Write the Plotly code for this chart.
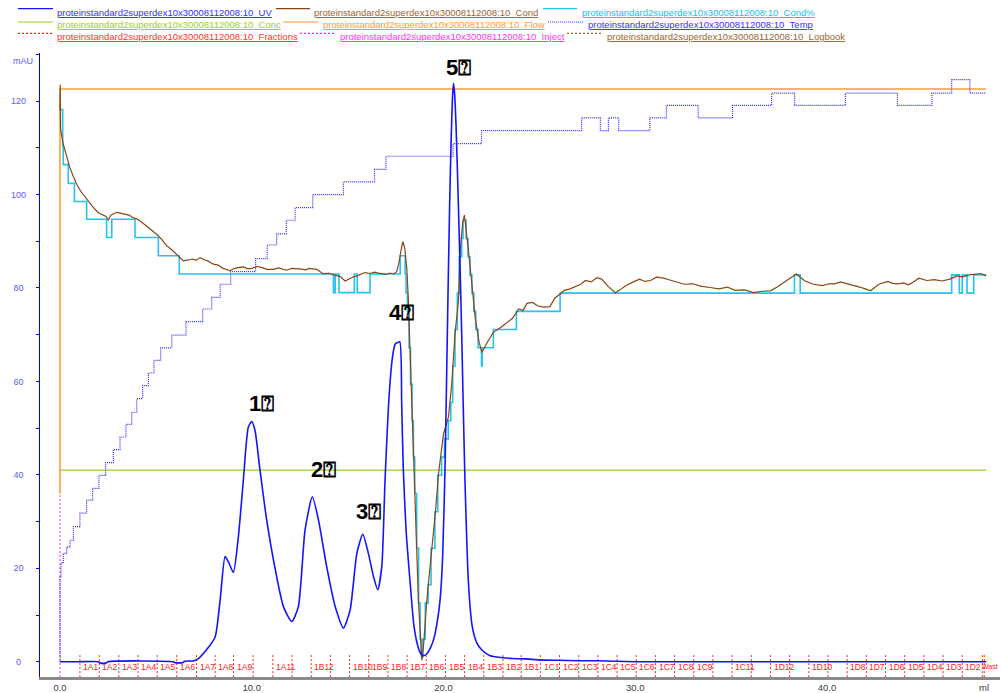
import plotly.graph_objects as go

RUN = "proteinstandard2superdex10x30008112008:10_"

# ---------------- data ----------------
uv_ml = [0.0, 1.0, 2.0, 2.1, 2.4, 2.5, 5.9, 6.0, 6.4, 6.5, 7.0, 7.2, 7.65, 8.09, 8.35, 8.61,
         8.8, 9.04, 9.3, 9.56, 9.82, 10.0, 10.17, 10.43, 10.78, 11.2, 11.65, 12.09, 12.43,
         12.78, 13.16, 13.48, 13.91, 14.35, 14.78, 15.13, 15.48, 15.79, 16.08, 16.35, 16.57,
         16.78, 16.95, 17.18, 17.35, 17.48, 17.6, 17.72, 17.82, 17.9, 18.05, 18.26, 18.45,
         18.62, 18.8, 18.94, 19.1, 19.3, 19.5, 19.67, 19.82, 19.95, 20.08, 20.17, 20.24,
         20.32, 20.4, 20.47, 20.52, 20.58, 20.66, 20.76, 20.86, 20.95, 21.1, 21.3, 21.5,
         21.74, 22.0, 22.43, 23.0, 23.6, 24.3, 25.0, 26.0, 27.0, 28.0, 29.0, 30.0, 31.0, 48.3]
uv_mau = [0.0, 0.0, 0.0, -0.3, -0.3, 0.0, 0.0, -0.2, -0.2, 0.1, 0.2, 0.6, 2.6, 5.3, 13.2, 22.5,
          21.2, 19.1, 26.7, 38.8, 50.2, 51.4, 49.5, 41.0, 30.3, 20.3, 11.8, 8.6, 11.8,
          28.2, 35.3, 30.3, 20.3, 11.8, 7.2, 11.1, 23.2, 27.3, 23.2, 18.2, 15.4,
          20.3, 38.8, 58.0, 65.5, 68.0, 68.3, 68.5, 55.0, 41.6, 28.0, 16.9, 8.0,
          4.0, 1.8, 1.3, 1.6, 2.8, 5.0, 8.5, 13.2, 22.0, 41.7, 63.0, 80.0,
          98.0, 112.0, 121.0, 123.8, 121.5, 114.0, 100.0, 85.0, 70.0, 41.7, 16.9, 7.5,
          4.0, 2.5, 1.3, 0.9, 0.7, 0.6, 0.4, 0.3, 0.2, 0.2, 0.1, 0.0, 0.0, 0.0]

cond_ml = [0.0, 0.01, 0.03, 0.17, 0.35, 0.52, 0.7, 0.87, 1.1, 1.39, 1.7, 2.0, 2.25, 2.4, 2.52,
           2.65, 2.96, 3.2, 3.4, 3.6, 3.83, 4.0, 4.2, 4.52, 4.8, 5.04, 5.3, 5.57, 5.8, 6.0,
           6.2, 6.43, 6.7, 6.9, 7.1, 7.3, 7.5, 7.7, 8.0, 8.25, 8.5, 8.87, 9.0, 9.2, 9.56, 9.8,
           10.0, 10.3, 10.5, 10.8, 11.13, 11.4, 11.8, 12.1, 12.5, 12.8, 13.0, 13.39, 13.74,
           14.0, 14.26, 14.6, 14.87, 15.1, 15.3, 15.5, 15.7, 15.9, 16.17, 16.4, 16.6, 16.8,
           17.0, 17.2, 17.4, 17.56, 17.68, 17.78, 17.88, 17.98, 18.09, 18.17, 18.26, 18.35,
           18.43, 18.52, 18.69, 18.87, 18.95, 19.13, 19.3, 19.48, 19.6, 19.74, 20.0, 20.26,
           20.43, 20.6, 20.78, 20.87, 21.0, 21.09, 21.2, 21.3, 21.48, 21.65, 21.85, 22.0,
           22.3, 22.6, 23.0, 23.3, 23.6, 23.92, 24.15, 24.35, 24.64, 24.9, 25.2, 25.55, 25.8,
           26.08, 26.3, 26.6, 26.9, 27.16, 27.4, 27.7, 28.0, 28.24, 28.6, 28.96, 29.2, 29.5,
           29.9, 30.22, 30.5, 30.8, 31.1, 31.48, 31.8, 32.0, 32.3, 32.56, 33.0, 33.4, 33.9,
           34.36, 34.8, 35.2, 35.7, 36.16, 36.6, 37.05, 37.4, 37.77, 38.1, 38.4, 38.6, 38.85,
           39.3, 39.75, 40.1, 40.4, 40.7, 41.0, 41.4, 41.7, 42.0, 42.27, 42.7, 43.17, 43.4,
           43.7, 44.0, 44.25, 44.5, 44.79, 45.2, 45.6, 46.0, 46.41, 46.77, 47.1, 47.4, 47.7,
           48.03, 48.3]
cond_mau = [118.0, 123.5, 114.0, 110.8, 108.0, 105.7, 103.8, 102.2, 100.6, 99.0, 97.4, 96.1, 95.6, 95.3, 94.5,
            95.6, 96.2, 96.0, 95.8, 95.6, 95.0, 94.8, 94.3, 93.3, 92.4, 91.5, 90.4, 89.0, 88.3, 87.5,
            86.5, 85.8, 86.0, 86.2, 85.9, 86.5, 86.1, 85.8, 85.1, 84.9, 84.2, 83.7, 84.0, 84.3, 84.5, 84.1,
            84.2, 84.6, 84.4, 84.0, 84.0, 84.3, 83.8, 84.2, 84.1, 83.9, 84.2, 84.0, 83.0,
            83.2, 82.8, 82.5, 81.5, 82.0, 82.4, 82.6, 82.9, 83.3, 83.1, 83.4, 83.2, 83.0,
            82.9, 83.2, 83.0, 83.5, 85.5, 88.0, 89.9, 88.5, 84.0, 77.0, 66.0, 56.0,
            45.0, 34.6, 13.2, 0.3, 3.0, 13.2, 20.0, 27.5, 33.0, 40.3, 48.8, 52.4,
            59.5, 70.2, 77.3, 88.0, 94.0, 95.6, 92.0, 88.0, 80.8, 73.7, 68.5, 66.2,
            68.5, 70.5, 71.6, 72.6, 73.5, 75.5, 75.2, 76.7, 76.9, 76.2, 75.9, 76.0, 77.8,
            78.7, 79.5, 79.8, 80.4, 80.8, 81.6, 81.3, 82.2, 81.9, 80.3, 79.0, 79.6, 80.5,
            81.3, 81.9, 81.4, 81.6, 82.3, 82.1, 81.7, 81.5, 81.1, 80.8, 80.9, 80.4, 80.1,
            79.8, 80.2, 79.5, 79.6, 79.0, 79.3, 79.4, 80.2, 81.2, 82.0, 83.0, 82.3, 81.5,
            80.8, 80.5, 80.9, 80.9, 81.3, 81.0, 80.6, 80.2, 79.8, 79.4, 80.8, 81.4, 81.0,
            80.9, 81.1, 80.7, 81.3, 82.1, 81.6, 81.8, 81.5, 81.9, 82.6, 82.4, 82.8, 82.9,
            83.1, 82.6]

condpct_ml = [0.0, 0.14, 0.17, 0.43, 0.75, 1.39, 2.43, 2.7, 3.91, 5.13, 6.22, 14.26, 14.35,
              14.55, 15.35, 15.5, 16.17, 17.74, 18.0, 18.05, 18.12, 18.2, 18.28, 18.36, 18.43,
              18.5, 18.6, 18.7, 18.78, 18.85, 18.92, 19.05, 19.2, 19.35, 19.55, 19.7, 19.9,
              20.05, 20.25, 20.38, 20.48, 20.6, 20.72, 20.82, 20.95, 21.02, 21.18, 21.28,
              21.38, 21.48, 21.58, 21.68, 21.8, 21.98, 22.02, 22.6, 23.8, 26.08, 38.3, 38.6,
              46.5, 46.9, 47.05, 47.3, 47.65, 48.3]
condpct_mau = [118.2, 110.4, 106.4, 102.4, 98.5, 94.7, 90.8, 94.7, 90.8, 86.9, 83.0, 79.0, 83.0,
               79.0, 83.0, 79.0, 83.0, 86.9, 83.0, 79.0, 75.0, 67.2, 59.4, 51.6, 43.8,
               36.0, 24.3, 12.6, 4.8, 1.0, 4.8, 12.6, 16.5, 24.3, 32.1, 39.9, 43.8,
               47.7, 51.6, 55.5, 63.3, 71.1, 78.9, 86.7, 90.6, 94.5, 90.6, 86.7,
               82.8, 78.9, 75.0, 71.1, 67.2, 63.3, 67.2, 71.1, 75.0, 78.9, 82.8, 78.9,
               82.8, 78.9, 82.8, 78.9, 82.8, 82.8]

temp_ml = [0.0, 0.0, 0.05, 0.17, 0.35, 0.52, 0.7, 1.04, 1.39, 1.7, 2.03, 2.38, 2.78, 3.13, 3.44,
           3.74, 4.0, 4.31, 4.61, 4.9, 5.25, 5.83, 6.57, 7.44, 7.91, 8.35, 8.9, 10.2, 10.8, 11.3,
           11.8, 12.26, 13.18, 14.78, 16.4, 17.0, 20.5, 21.98, 27.2, 28.18, 28.6, 29.14, 30.76,
           31.62, 33.28, 35.07, 37.11, 38.31, 40.96, 43.67, 45.47, 46.5, 47.45, 48.3]
temp_val = [0.0, 18.2, 21.1, 23.2, 24.6, 26.0, 28.9, 31.8, 34.6, 37.1, 39.9, 42.6, 45.4, 48.1, 50.8,
            53.4, 56.3, 59.1, 61.8, 64.5, 67.2, 69.9, 72.8, 75.5, 78.0, 80.8, 83.5, 86.3, 89.2, 91.6,
            94.5, 97.2, 100.0, 102.7, 105.4, 108.2, 110.9, 113.7, 116.4, 113.7, 116.4, 113.7, 116.4,
            119.1, 116.4, 119.1, 121.7, 119.1, 121.7, 119.1, 121.7, 124.6, 121.7, 121.7]

flow_ml = [0.0, 0.0, 48.3]
flow_val = [36.0, 122.6, 122.6]

conc_ml = [0.0, 48.3]
conc_val = [41.0, 41.0]

inject_ml = [0.0, 0.0]
inject_val = [-3.3, 36.0]

frac_ml = [1.04, 2.05, 3.07, 4.07, 5.07, 6.09, 7.12, 8.09, 9.05, 10.07, 11.1, 12.1, 13.1, 14.1,
           15.1, 16.1, 17.1, 18.1, 19.1, 20.1, 21.1, 22.1, 23.1, 24.05, 25.05, 26.05, 27.05,
           28.05, 29.05, 30.05, 31.05, 32.05, 33.05, 34.05, 35.05, 36.05, 37.05, 38.05, 39.05,
           40.05, 41.05, 42.05, 43.05, 44.05, 45.05, 46.05, 47.05, 48.1, 48.2]
frac_labels = ["1A1", "1A2", "1A3", "1A4", "1A5", "1A6", "1A7", "1A8", "1A9", "", "1A11", "",
               "1B12", "", "1B10", "1B9", "1B8", "1B7", "1B6", "1B5", "1B4", "1B3", "1B2", "1B1",
               "1C1", "1C2", "1C3", "1C4", "1C5", "1C6", "1C7", "1C8", "1C9", "", "1C11", "",
               "1D12", "", "1D10", "", "1D8", "1D7", "1D6", "1D5", "1D4", "1D3", "1D2", "", "Wast"]

peak_labels = ["1\u2370", "2\u2370", "3\u2370", "4\u2370", "5\u2370"]
peak_ml = [10.49, 13.72, 16.07, 17.79, 20.76]
peak_mau = [55.3, 41.1, 32.2, 74.7, 127.2]

x_ticks = [0, 10, 20, 30, 40]
x_ticktext = ["0.0", "10.0", "20.0", "30.0", "40.0"]
y_ticks = [0, 20, 40, 60, 80, 100, 120]
y_ticktext = ["0\u2007", "20\u2008", "40\u2008", "60\u2008", "80\u2008", "100", "120"]

# ---------------- styles ----------------
C_UV = "#1414ff"
C_COND = "#8b4513"
C_CONDP = "#22c4f0"
C_CONC = "#9acd32"
C_FLOW = "#ff9a3c"
C_TEMP = "#3030ff"
C_FRAC = "#ff2020"
C_INJ = "#ff20ff"
C_LOG = "#996633"
FONT = "Liberation Sans, Arial, sans-serif"

W, H = 1001, 693
ML, MR, MT, MB = 40, 1, 53, 16
PW, PH = W - ML - MR, H - MT - MB


def px2paper(px, py):
    return (px - ML) / PW, (H - MB - py) / PH


fig = go.Figure()

fig.add_trace(go.Scatter(x=conc_ml, y=conc_val, mode="lines", name=RUN + "Conc",
                         line=dict(color=C_CONC, width=1.3)))
fig.add_trace(go.Scatter(x=flow_ml, y=flow_val, mode="lines", name=RUN + "Flow",
                         line=dict(color=C_FLOW, width=1.6)))
fig.add_trace(go.Scatter(x=inject_ml, y=inject_val, mode="lines", name=RUN + "Inject",
                         line=dict(color=C_INJ, width=1, dash="2px,2px")))
fig.add_trace(go.Scatter(x=temp_ml, y=temp_val, mode="lines", name=RUN + "Temp",
                         line=dict(color=C_TEMP, width=1.2, dash="1px,1px", shape="hv")))

fx, fy = [], []
for v in frac_ml:
    fx += [v, v, None]
    fy += [-3.3, 1.6, None]
fig.add_trace(go.Scatter(x=fx, y=fy, mode="lines", name=RUN + "Fractions",
                         line=dict(color=C_FRAC, width=1, dash="2px,2px")))

fig.add_trace(go.Scatter(x=condpct_ml, y=condpct_mau, mode="lines", name=RUN + "Cond%",
                         line=dict(color=C_CONDP, width=1.6, shape="hv")))
fig.add_trace(go.Scatter(x=cond_ml, y=cond_mau, mode="lines", name=RUN + "Cond",
                         line=dict(color=C_COND, width=1.2)))
fig.add_trace(go.Scatter(x=uv_ml, y=uv_mau, mode="lines", name=RUN + "UV",
                         line=dict(color=C_UV, width=1.6, shape="spline", smoothing=0.6)))

annotations = []
for v, lab in zip(frac_ml, frac_labels):
    if not lab:
        continue
    if lab == "Wast":
        ex, _ = px2paper(1000, 0)
        annotations.append(dict(x=ex, y=-1.05, xref="paper", yref="y", text=lab,
                                showarrow=False, xanchor="right", yanchor="middle",
                                font=dict(family=FONT, size=7, color=C_FRAC)))
    else:
        annotations.append(dict(x=v + 0.06, y=-1.05, xref="x", yref="y", text=lab,
                                showarrow=False, xanchor="left", yanchor="middle",
                                font=dict(family=FONT, size=8.5, color=C_FRAC)))

for t, xv, yv in zip(peak_labels, peak_ml, peak_mau):
    annotations.append(dict(x=xv, y=yv, xref="x", yref="y", text="<b>" + t + "</b>",
                            showarrow=False, xanchor="center", yanchor="middle",
                            font=dict(family=FONT, size=22, color="#000000")))

# axis titles
ax, ay = px2paper(23, 61)
annotations.append(dict(x=ax, y=ay, xref="paper", yref="paper", text="mAU", showarrow=False,
                        xanchor="center", yanchor="middle",
                        font=dict(family=FONT, size=9, color="#5a5aff")))
ax, ay = px2paper(984, 687)
annotations.append(dict(x=ax, y=ay, xref="paper", yref="paper", text="ml", showarrow=False,
                        xanchor="center", yanchor="middle",
                        font=dict(family=FONT, size=9.5, color="#404040")))

# manual legend (flow layout like the original)
legend_items = [
    ("UV", C_UV, "solid", 18, 53, 55, 8.7, 12.5, "#3030ff"),
    ("Cond", C_COND, "solid", 276, 310, 312, 8.7, 12.5, "#996633"),
    ("Cond%", C_CONDP, "solid", 543, 577, 580, 8.7, 12.5, "#20c0f0"),
    ("Conc", C_CONC, "solid", 18, 53, 55, 22.0, 24.5, "#99cc33"),
    ("Flow", C_FLOW, "solid", 283, 318, 321, 22.0, 24.5, "#ff9933"),
    ("Temp", C_TEMP, "1px,1px", 548, 583, 586, 22.0, 24.5, "#3333ff"),
    ("Fractions", C_FRAC, "2px,2px", 18, 53, 55, 33.3, 36.2, "#ff3333"),
    ("Inject", C_INJ, "2px,2px", 300, 335, 338, 33.3, 36.2, "#ff33ff"),
    ("Logbook", C_LOG, "2px,2px", 567, 603, 605, 33.3, 36.2, "#996633"),
]
shapes = []
for name, col, dash, x0, x1, xt, yl, yt, tcol in legend_items:
    p0x, p0y = px2paper(x0, yl)
    p1x, _ = px2paper(x1, yl)
    shapes.append(dict(type="line", xref="paper", yref="paper", x0=p0x, x1=p1x, y0=p0y, y1=p0y,
                       line=dict(color=col, width=1.2, dash=dash)))
    tx, ty = px2paper(xt, yt)
    annotations.append(dict(x=tx, y=ty, xref="paper", yref="paper",
                            text="<span style='text-decoration:underline'>" + RUN + name + "</span>",
                            showarrow=False, xanchor="left", yanchor="middle",
                            font=dict(family=FONT, size=9.5, color=tcol)))

fig.update_layout(
    width=W, height=H,
    margin=dict(l=ML, r=MR, t=MT, b=MB, pad=0),
    paper_bgcolor="white", plot_bgcolor="white",
    showlegend=False,
    annotations=annotations,
    shapes=shapes,
    xaxis=dict(range=[-1.043, 49.02], showgrid=False, zeroline=False,
               showline=True, linecolor="#8a8a8a", linewidth=3,
               tickvals=x_ticks, ticktext=x_ticktext, ticks="",
               tickfont=dict(family=FONT, size=9.5, color="#404040")),
    yaxis=dict(range=[-3.27, 130.3], showgrid=False, zeroline=False,
               showline=True, linecolor="#0000ff", linewidth=1.3,
               tickvals=y_ticks, ticktext=y_ticktext, ticks="outside", ticklen=3,
               tickcolor="#0000ff", tickwidth=1, ticklabelstandoff=8,
               minor=dict(dtick=10, tick0=0, ticks="outside", ticklen=3, tickcolor="#0000ff"),
               tickfont=dict(family=FONT, size=9, color="#5a5aff")),
    font=dict(family=FONT),
)

fig.write_html("out.html")
